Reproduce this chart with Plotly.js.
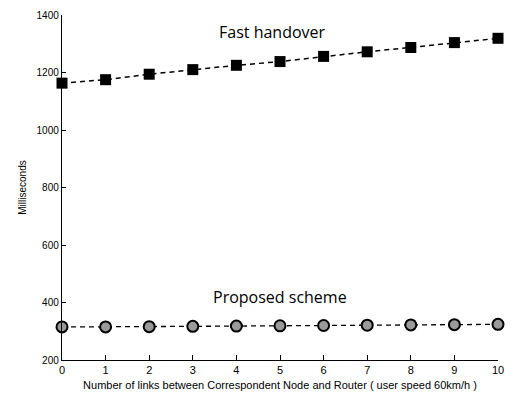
<!DOCTYPE html>
<html>
<head>
<meta charset="utf-8">
<script src="https://cdn.plot.ly/plotly-3.0.1.min.js"></script>
<style>html,body{margin:0;padding:0;background:#fff;}#chart{width:525px;height:397px;}</style>
</head>
<body>
<div id="chart"></div>
<script>
var links = [0, 1, 2, 3, 4, 5, 6, 7, 8, 9, 10];
var fastHandover = [1163, 1175, 1194, 1210, 1225, 1238, 1256, 1272, 1287, 1304, 1319];
var proposedScheme = [315, 315, 316, 317, 318, 319, 320, 321, 322, 323, 324];
var yTicks = [200, 400, 600, 800, 1000, 1200, 1400];

var traces = [
  {
    x: links, y: fastHandover, type: 'scatter', mode: 'lines+markers',
    name: 'Fast handover', cliponaxis: false,
    line: {color: '#000', width: 1.5, dash: '5px,4px'},
    marker: {symbol: 'square', size: 11, color: '#000'}
  },
  {
    x: links, y: proposedScheme, type: 'scatter', mode: 'lines+markers',
    name: 'Proposed scheme', cliponaxis: false,
    line: {color: '#000', width: 1.3, dash: '5px,4px'},
    marker: {symbol: 'circle', size: 11, color: '#9a9a9a', line: {color: '#000', width: 2}}
  }
];

var layout = {
  width: 525, height: 397,
  margin: {l: 62, r: 27, t: 15, b: 37},
  paper_bgcolor: '#fff', plot_bgcolor: '#fff',
  showlegend: false,
  font: {family: 'Liberation Sans, Arial, sans-serif', color: '#000', size: 10},
  xaxis: {
    range: [0, 10], tickvals: links, ticks: 'inside', ticklen: 5, tickcolor: '#000',
    showgrid: false, zeroline: false, showline: true, linecolor: '#000', linewidth: 1.2,
    tickfont: {size: 11},
    title: {text: 'Number of links between Correspondent Node and Router ( user speed 60km/h )', font: {size: 11}, standoff: 5}
  },
  yaxis: {
    range: [200, 1400], tickvals: yTicks, ticks: 'inside', ticklen: 4, tickcolor: '#000',
    showgrid: false, zeroline: false, showline: true, linecolor: '#000', linewidth: 1.2,
    tickfont: {size: 10},
    title: {text: 'Milliseconds', font: {size: 10}, standoff: 8}
  },
  annotations: [
    {x: 4.82, y: 1341, xref: 'x', yref: 'y', text: 'Fast handover', showarrow: false,
     xanchor: 'center', yanchor: 'middle', font: {family: 'Open Sans, Liberation Sans, sans-serif', size: 16}},
    {x: 5.0, y: 419, xref: 'x', yref: 'y', text: 'Proposed scheme', showarrow: false,
     xanchor: 'center', yanchor: 'middle', font: {family: 'Open Sans, Liberation Sans, sans-serif', size: 16}}
  ]
};

Plotly.newPlot('chart', traces, layout, {displayModeBar: false, staticPlot: true});
</script>
</body>
</html>
